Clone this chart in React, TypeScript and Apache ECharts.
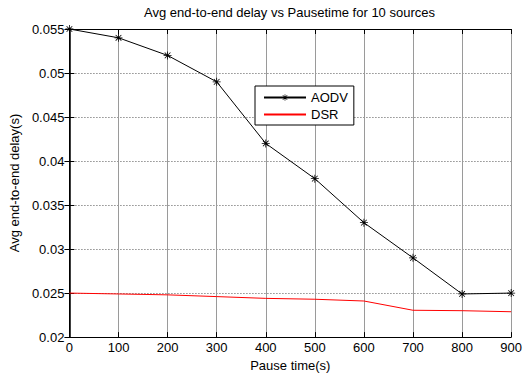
import React, { useEffect, useRef } from "react";
import * as echarts from "echarts";

const pauseTimes = [0, 100, 200, 300, 400, 500, 600, 700, 800, 900];
const aodvDelay = [0.055, 0.054, 0.052, 0.049, 0.042, 0.038, 0.033, 0.029, 0.0249, 0.025];
const dsrDelay = [0.025, 0.0249, 0.0248, 0.0246, 0.0244, 0.0243, 0.0241, 0.02305, 0.0230, 0.02288];

const titleText = "Avg end-to-end delay vs Pausetime for 10 sources";
const xName = "Pause time(s)";
const yName = "Avg end-to-end delay(s)";

const asterisk =
  "path://M4.5 0 L5.5 0 L5.5 10 L4.5 10 Z M0 4.5 L10 4.5 L10 5.5 L0 5.5 Z M1.1 1.8 L1.8 1.1 L8.9 8.2 L8.2 8.9 Z M8.2 1.1 L8.9 1.8 L1.8 8.9 L1.1 8.2 Z";

const FONT = "'Liberation Sans', Arial, sans-serif";

export default function App() {
  const ref = useRef<HTMLDivElement>(null);
  useEffect(() => {
    if (!ref.current) return;
    const chart = echarts.init(ref.current, null, { renderer: "svg" });
    const tickStyle = { inside: true, length: 5, lineStyle: { color: "#000", width: 1 } };
    chart.setOption({
      animation: false,
      backgroundColor: "#fff",
      textStyle: { fontFamily: FONT },
      title: {
        text: titleText,
        left: 144,
        top: 6,
        padding: 0,
        textStyle: { fontSize: 13, fontWeight: "normal", color: "#000", fontFamily: FONT },
      },
      legend: {
        orient: "vertical",
        left: 255,
        top: 86,
        padding: [4, 6, 3, 8],
        itemGap: 2,
        itemWidth: 42,
        itemHeight: 8,
        backgroundColor: "#fff",
        borderColor: "#000",
        borderWidth: 1,
        borderRadius: 0,
        textStyle: { fontSize: 13, color: "#000", fontFamily: FONT, lineHeight: 15 },
        data: [
          { name: "AODV" },
          { name: "DSR", itemStyle: { opacity: 0 } },
        ],
      },
      grid: { left: 69, right: 11, top: 29, bottom: 35, containLabel: false },
      xAxis: [
        {
          type: "value",
          min: 0,
          max: 900,
          interval: 100,
          name: xName,
          nameLocation: "middle",
          nameGap: 20,
          nameTextStyle: { fontSize: 13, color: "#000", fontFamily: FONT },
          axisLine: { show: true, lineStyle: { color: "#000", width: 1 } },
          axisTick: tickStyle,
          axisLabel: { fontSize: 13, color: "#000", margin: 4, fontFamily: FONT },
          splitLine: { show: true, lineStyle: { color: "#9a9a9a", width: 1, type: "solid" } },
        },
        {
          type: "value",
          position: "top",
          min: 0,
          max: 900,
          interval: 100,
          axisLine: { show: true, lineStyle: { color: "#000", width: 1 } },
          axisTick: tickStyle,
          axisLabel: { show: false },
          splitLine: { show: false },
        },
      ],
      yAxis: [
        {
          type: "value",
          min: 0.02,
          max: 0.055,
          interval: 0.005,
          name: yName,
          nameLocation: "middle",
          nameGap: 45,
          nameTextStyle: { fontSize: 13, color: "#000", fontFamily: FONT },
          axisLine: { show: true, lineStyle: { color: "#000", width: 1.5 } },
          axisTick: tickStyle,
          axisLabel: {
            fontSize: 13,
            color: "#000",
            margin: 5,
            fontFamily: FONT,
            formatter: (v: number) => String(+v.toFixed(3)),
          },
          splitLine: { show: true, lineStyle: { color: "#555", width: 1, type: [1, 2] } },
        },
        {
          type: "value",
          position: "right",
          min: 0.02,
          max: 0.055,
          interval: 0.005,
          axisLine: { show: true, lineStyle: { color: "#000", width: 1 } },
          axisTick: tickStyle,
          axisLabel: { show: false },
          splitLine: { show: false },
        },
      ],
      series: [
        {
          name: "AODV",
          type: "line",
          xAxisIndex: 0,
          yAxisIndex: 0,
          data: pauseTimes.map((x, i) => [x, aodvDelay[i]]),
          symbol: asterisk,
          symbolSize: 8,
          showAllSymbol: true,
          itemStyle: { color: "#000" },
          lineStyle: { color: "#000", width: 1 },
        },
        {
          name: "DSR",
          type: "line",
          xAxisIndex: 0,
          yAxisIndex: 0,
          data: pauseTimes.map((x, i) => [x, dsrDelay[i]]),
          symbol: "none",
          itemStyle: { color: "#ff0000" },
          lineStyle: { color: "#ff0000", width: 1 },
        },
      ],
    });
    return () => chart.dispose();
  }, []);
  return (
    <div
      ref={ref}
      style={{ position: "fixed", left: 0, top: 0, width: 525, height: 377 }}
    />
  );
}
